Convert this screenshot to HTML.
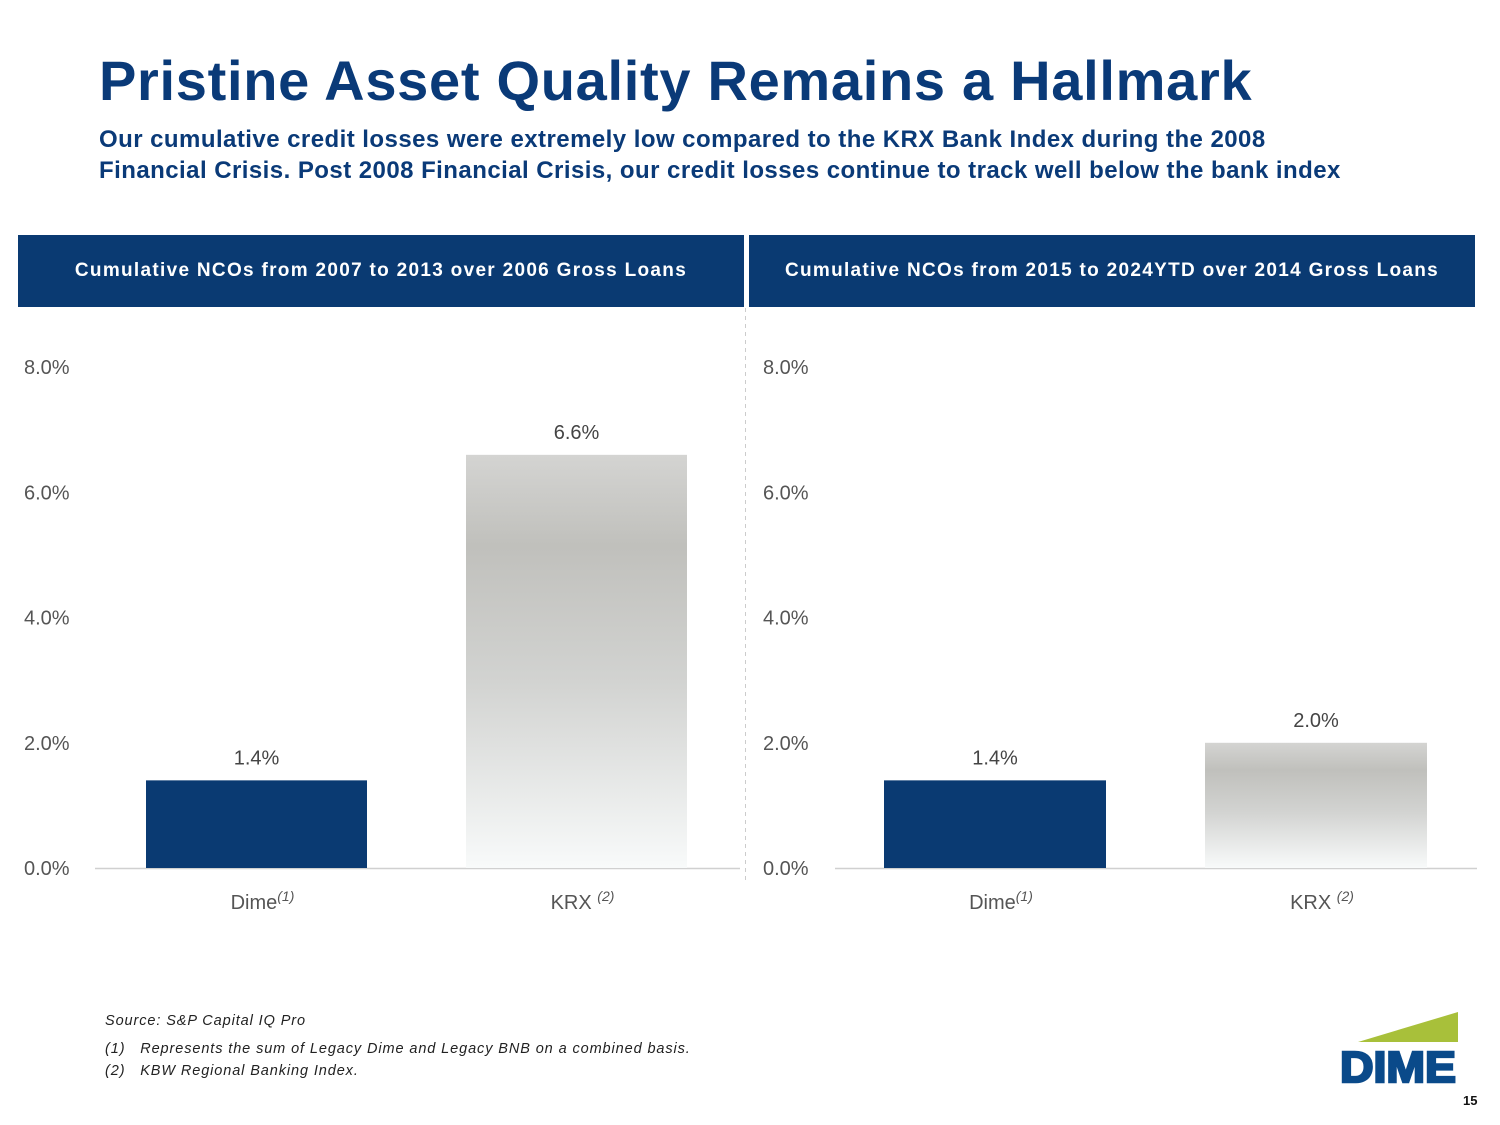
<!DOCTYPE html>
<html><head><meta charset="utf-8">
<style>
body{margin:0;background:#fff;}
#page{position:relative;width:1500px;height:1125px;overflow:hidden;background:#fff;font-family:"Liberation Sans",sans-serif;}
.title{position:absolute;left:99px;top:48px;font-size:56px;font-weight:bold;color:#0a3a78;letter-spacing:0.7px;}
.sub{position:absolute;left:99px;top:124px;font-size:24px;font-weight:bold;color:#0a3a78;line-height:31px;letter-spacing:0.45px;}
.hdr{position:absolute;top:235px;height:72px;width:726px;background:#0a3a72;color:#fff;font-weight:bold;font-size:19px;display:flex;align-items:center;justify-content:center;letter-spacing:1.3px;}
.foot{position:absolute;font-size:14.5px;font-style:italic;color:#222;letter-spacing:0.9px;}
</style></head><body>
<div id="page">
<div class="title">Pristine Asset Quality Remains a Hallmark</div>
<div class="sub">Our cumulative credit losses were extremely low compared to the KRX Bank Index during the 2008<br>Financial Crisis. Post 2008 Financial Crisis, our credit losses continue to track well below the bank index</div>
<div class="hdr" style="left:18px">Cumulative NCOs from 2007 to 2013 over 2006 Gross Loans</div>
<div class="hdr" style="left:749px">Cumulative NCOs from 2015 to 2024YTD over 2014 Gross Loans</div>
<svg id="chart" width="1500" height="1125" style="position:absolute;left:0;top:0">
<defs><linearGradient id="gray" x1="0" y1="0" x2="0" y2="1">
<stop offset="0" stop-color="#d4d4d2"/><stop offset="0.22" stop-color="#c0c0bc"/><stop offset="0.55" stop-color="#d2d3d1"/><stop offset="1" stop-color="#f8fafa"/></linearGradient></defs>
<line x1="745.5" y1="308" x2="745.5" y2="880" stroke="#ccc" stroke-dasharray="4,4"/>
</svg>
<div class="foot" style="left:105px;top:1013px">Source: S&amp;P Capital IQ Pro</div>
<div class="foot" style="left:105px;top:1041px">(1)&nbsp;&nbsp;&nbsp;Represents the sum of Legacy Dime and Legacy BNB on a combined basis.</div>
<div class="foot" style="left:105px;top:1063px">(2)&nbsp;&nbsp;&nbsp;KBW Regional Banking Index.</div>
<svg style="position:absolute;left:1338px;top:1012px" width="122" height="72">
<polygon points="20,30 120,0 120,30" fill="#a8c03a"/>
<text x="60" y="70" text-anchor="middle" font-family="Liberation Sans" font-weight="bold" font-size="44" fill="#0a4a8a" stroke="#0a4a8a" stroke-width="2.5" textLength="116" lengthAdjust="spacingAndGlyphs">DIME</text>
</svg>
<div style="position:absolute;left:1463px;top:1093px;font-size:13px;font-weight:bold;color:#111">15</div>
</div>
<script>
const categories=["Dime","KRX"];
const sups=["(1)","(2)"];
const leftValues=[1.4,6.6];
const rightValues=[1.4,2.0];
const tickValues=[0,2,4,6,8];
const ns="http://www.w3.org/2000/svg";
const svg=document.getElementById('chart');
function mk(t,a){const e=document.createElementNS(ns,t);for(const k in a)e.setAttribute(k,a[k]);svg.appendChild(e);return e;}
const y0=868,pxPer=62.6;
function yS(v){return y0-v*pxPer;}
function drawChart(name,values,axisX1,axisX2,tickX,barStarts,barW){
  const ax=mk('line',{x1:axisX1,y1:y0+0.5,x2:axisX2,y2:y0+0.5,stroke:'#d0d0d0','stroke-width':1.5});
  
  
  tickValues.forEach(t=>{
    const tx=mk('text',{x:tickX,y:yS(t)+7,'font-size':20,fill:'#555','font-family':'Liberation Sans'});
    tx.textContent=t.toFixed(1)+'%';
    
    
  });
  values.forEach((v,i)=>{
    const x=barStarts[i];
    const r=mk('rect',{x:x,y:yS(v),width:barW,height:y0-yS(v),fill:i==0?'#0a3a72':'url(#gray)'});
    
    
    const l=mk('text',{x:x+barW/2,y:yS(v)-16,'text-anchor':'middle','font-size':20,fill:'#444','font-family':'Liberation Sans'});
    l.textContent=v.toFixed(1)+'%';
    
    
    const c=mk('text',{x:x+barW/2+6,y:909,'text-anchor':'middle','font-size':20,fill:'#555','font-family':'Liberation Sans'});
    c.innerHTML=categories[i]+(i==1?' ':'')+'<tspan font-size="14" font-style="italic" dy="-8">'+sups[i]+'</tspan>';
    
    
  });
}
drawChart('left-chart',leftValues,95,740,24,[146,466],221);
drawChart('right-chart',rightValues,835,1477,763,[884,1205],222);
</script>
</body></html>
